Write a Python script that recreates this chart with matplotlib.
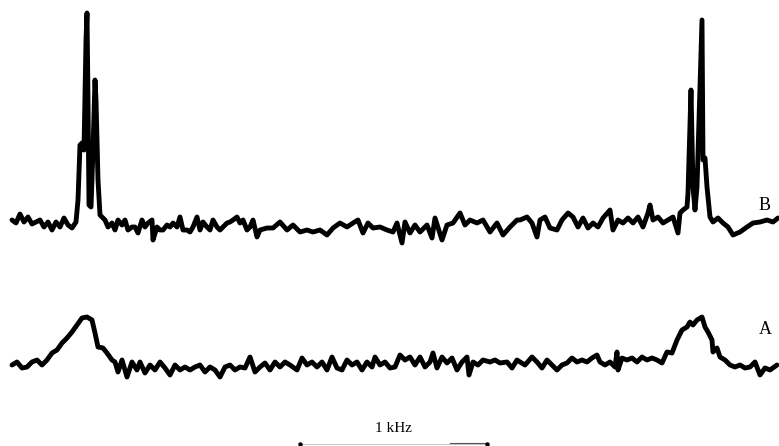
import matplotlib.pyplot as plt

# spectrum B (narrow lines), channel -> intensity
b_ch = [12, 16, 20, 24, 28, 32, 36, 40, 44, 48, 52, 56, 60, 64, 68, 72, 76, 78, 80, 82,
        84, 86, 87, 88, 89, 91, 93, 95, 96, 98, 100, 102, 105, 108, 112, 115, 118, 122, 125, 128,
        132, 135, 138, 142, 145, 148, 152, 153, 157, 160, 163, 167, 170, 173, 177, 180, 183, 187, 190, 193,
        197, 200, 203, 207, 210, 213, 217, 220, 223, 227, 230, 233, 237, 240, 243, 247, 250, 253, 257, 260,
        267, 273, 280, 287, 293, 300, 307, 313, 320, 327, 333, 340, 347, 353, 358, 363, 368, 373, 380, 387,
        393, 397, 402, 405, 410, 415, 420, 427, 432, 435, 442, 447, 453, 460, 465, 470, 477, 483, 490, 497,
        503, 510, 517, 520, 527, 532, 537, 540, 545, 550, 557, 562, 568, 573, 578, 583, 588, 593, 598, 603,
        610, 613, 618, 623, 628, 633, 638, 643, 648, 650, 653, 658, 663, 668, 673, 678, 680, 683, 687, 688,
        691, 693, 695, 697, 702, 703, 705, 707, 710, 713, 718, 723, 728, 733, 740, 747, 753, 760, 767, 773,
        778]
b_int = [30, 27, 36, 28, 33, 26, 28, 30, 23, 28, 20, 28, 23, 32, 25, 22, 28, 50, 105, 107,
         100, 210, 237, 150, 45, 43, 100, 170, 150, 70, 35, 33, 30, 23, 27, 20, 30, 25, 30, 20,
         23, 23, 17, 30, 23, 27, 30, 10, 23, 20, 20, 25, 23, 27, 23, 33, 20, 20, 18, 23,
         33, 20, 28, 23, 20, 30, 23, 20, 23, 27, 28, 30, 33, 27, 30, 20, 23, 30, 13, 20,
         22, 22, 28, 20, 25, 18, 20, 18, 20, 15, 22, 27, 23, 27, 30, 17, 27, 22, 23, 20,
         18, 27, 7, 28, 17, 25, 18, 25, 12, 32, 10, 25, 27, 37, 25, 30, 27, 30, 18, 27,
         15, 23, 30, 30, 33, 27, 13, 30, 33, 22, 20, 30, 37, 33, 23, 32, 22, 27, 23, 32,
         40, 20, 30, 27, 32, 27, 33, 23, 37, 45, 30, 33, 27, 30, 33, 17, 37, 40, 43, 57,
         160, 63, 40, 63, 230, 90, 92, 63, 33, 28, 32, 27, 23, 15, 18, 23, 27, 28, 30, 28,
         32]

# spectrum A (broad lines)
a_ch = [12, 17, 22, 27, 32, 37, 42, 47, 52, 57, 62, 67, 72, 77, 82, 87, 92, 95, 98, 103,
        107, 112, 115, 118, 122, 127, 132, 137, 140, 145, 150, 155, 160, 165, 170, 175, 180, 185, 190, 195,
        200, 205, 210, 215, 220, 225, 230, 235, 240, 245, 250, 255, 260, 265, 270, 275, 280, 285, 290, 297,
        302, 307, 312, 317, 322, 327, 332, 337, 342, 347, 352, 357, 362, 367, 372, 375, 380, 385, 390, 395,
        400, 405, 410, 415, 420, 425, 430, 433, 437, 442, 447, 452, 457, 462, 467, 469, 473, 478, 483, 490,
        495, 500, 507, 512, 517, 520, 525, 532, 537, 542, 547, 552, 557, 562, 567, 572, 577, 582, 587, 592,
        597, 600, 605, 610, 615, 617, 618, 622, 627, 632, 637, 642, 647, 652, 657, 662, 667, 672, 677, 682,
        687, 690, 693, 697, 702, 705, 708, 712, 713, 717, 720, 725, 730, 735, 740, 745, 750, 755, 760, 765,
        770, 777]
a_int = [25, 28, 22, 23, 28, 30, 25, 30, 37, 40, 47, 52, 58, 65, 72, 73, 70, 57, 43, 42,
         37, 30, 28, 18, 30, 13, 28, 20, 28, 17, 25, 20, 28, 22, 15, 25, 20, 23, 20, 23,
         25, 18, 23, 20, 13, 23, 25, 20, 23, 22, 33, 18, 23, 27, 20, 28, 23, 28, 25, 20,
         32, 25, 28, 23, 28, 20, 33, 22, 20, 30, 25, 28, 20, 28, 23, 33, 25, 28, 22, 23,
         35, 30, 33, 25, 33, 23, 28, 37, 22, 33, 27, 32, 20, 28, 33, 15, 28, 25, 30, 28,
         30, 27, 28, 22, 30, 28, 25, 33, 28, 22, 30, 25, 20, 25, 27, 32, 28, 30, 28, 32,
         35, 28, 25, 28, 23, 38, 20, 32, 30, 32, 28, 33, 30, 32, 30, 27, 38, 37, 50, 60,
         63, 68, 65, 70, 73, 63, 58, 50, 38, 42, 33, 30, 25, 23, 25, 22, 23, 28, 15, 22,
         20, 25]

CH_PER_KHZ = 187  # channels in the 1 kHz scale bar
bar_start = 300

fig = plt.figure(figsize=(7.79, 4.46), dpi=100)
ax = fig.add_axes([0, 0, 1, 1])

bx = [c / CH_PER_KHZ for c in b_ch]
ax_ = [c / CH_PER_KHZ for c in a_ch]
ax.plot(bx, [v + 196 for v in b_int], color='black', lw=3.5,
        solid_joinstyle='round', solid_capstyle='round')
ax.plot(ax_, [v + 56 for v in a_int], color='black', lw=3.5,
        solid_joinstyle='round', solid_capstyle='round')

serif = ['Liberation Serif', 'DejaVu Serif']
ax.text(765 / CH_PER_KHZ, 240, 'B', family=serif, fontsize=13, ha='center', va='center')
ax.text(765 / CH_PER_KHZ, 117, 'A', family=serif, fontsize=13, ha='center', va='center')

# 1 kHz scale bar
x0 = bar_start / CH_PER_KHZ
x1 = x0 + 1.0
ax.plot([x0, x1], [2, 2], color='#bbbbbb', lw=0.6)
ax.plot([x1 - 0.2, x1], [3, 3], color='#555555', lw=0.8)
ax.plot([x0, x1], [2, 2], 'o', color='black', ms=2.2)
ax.text((x0 + x1) / 2, 18, '1 kHz', family=serif, fontsize=11, ha='center', va='center')

ax.set_xlim(0, 779 / CH_PER_KHZ)
ax.set_ylim(0, 446)
ax.axis('off')

fig.savefig('out.png', dpi=100)
